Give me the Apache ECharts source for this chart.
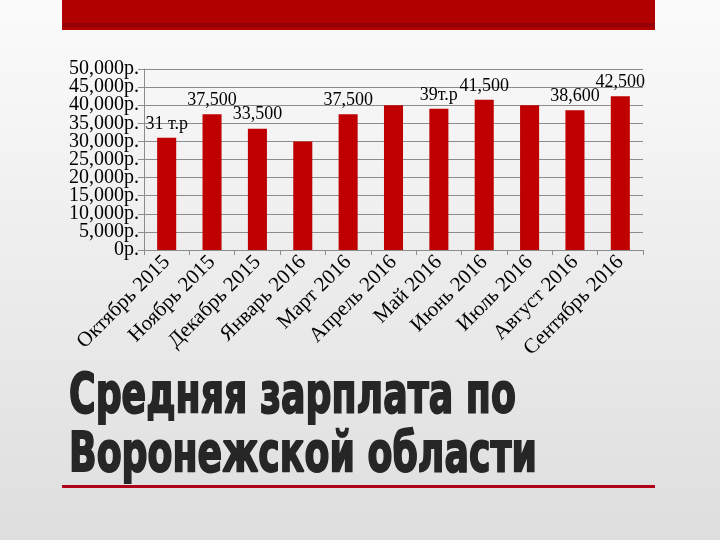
<!DOCTYPE html>
<html>
<head>
<meta charset="utf-8">
<style>
  html, body { margin: 0; padding: 0; }
  #main { width: 720px; height: 540px; }
</style>
</head>
<body>
<div id="main"></div>
<script src="https://cdn.jsdelivr.net/npm/echarts@6/dist/echarts.min.js"></script>
<script>
var months = ['Октябрь 2015', 'Ноябрь 2015', 'Декабрь 2015', 'Январь 2016', 'Март 2016', 'Апрель 2016',
              'Май 2016', 'Июнь 2016', 'Июль 2016', 'Август 2016', 'Сентябрь 2016'];
var salary = [31000, 37500, 33500, 30000, 37500, 40000, 39000, 41500, 40000, 38600, 42500];
var barLabels = ['31 т.р', '37,500', '33,500', '', '37,500', '', '39т.р', '41,500', '', '38,600', '42,500'];
var titleLines = ['Средняя зарплата по', 'Воронежской области'];

var serif = '"Liberation Serif", "Times New Roman", serif';

function rub(v) { return v.toLocaleString('en-US') + 'р.'; }

// labels sit 18px apart, so they are split over two stacked axes to keep all of them visible
function yAxisFor(even) {
  return {
    type: 'value',
    position: 'left',
    min: 0, max: 50000, interval: 5000,
    axisLine: { show: even, lineStyle: { color: '#8c8c8c' } },
    axisTick: { show: even, length: 6, lineStyle: { color: '#8c8c8c' } },
    splitLine: { show: even, lineStyle: { color: '#8c8c8c' } },
    axisLabel: {
      margin: 5, color: '#000', fontFamily: serif, fontSize: 20,
      showMinLabel: true, showMaxLabel: true,
      formatter: function (v) {
        var isEven = (v / 5000) % 2 === 0;
        return isEven === even ? rub(v) : '';
      }
    }
  };
}

var chart = echarts.init(document.getElementById('main'));
var option = {
  backgroundColor: {
    type: 'linear', x: 0, y: 0, x2: 0, y2: 1,
    colorStops: [{ offset: 0, color: '#fbfbfb' }, { offset: 1, color: '#dedede' }]
  },
  animation: false,
  grid: { left: 144, right: 77, top: 69, bottom: 290 },
  xAxis: {
    type: 'category',
    data: months,
    axisLine: { lineStyle: { color: '#8c8c8c' } },
    axisTick: { show: true, length: 5, lineStyle: { color: '#8c8c8c' } },
    axisLabel: { rotate: 45, margin: 9, color: '#000', fontFamily: serif, fontSize: 21, interval: 0 }
  },
  yAxis: [yAxisFor(true), yAxisFor(false)],
  series: [{
    type: 'bar',
    data: salary,
    barWidth: '42%',
    itemStyle: { color: '#c00000' },
    label: {
      show: true, position: 'top', distance: 5,
      color: '#000', fontFamily: serif, fontSize: 18,
      formatter: function (p) { return barLabels[p.dataIndex]; }
    }
  }],
  graphic: [
    { type: 'rect', shape: { x: 62, y: 0, width: 593, height: 30 }, style: { fill: '#b00000' } },
    { type: 'rect', shape: { x: 62, y: 23, width: 593, height: 4 }, style: { fill: '#960008' } },
    { type: 'rect', shape: { x: 62, y: 485, width: 593, height: 3 }, style: { fill: '#b0001a' } },
    { type: 'text', x: 69, y: 425, scaleX: 0.66,
      style: { text: titleLines[0], font: 'bold 55px "DejaVu Sans"', fill: '#262626',
               stroke: '#262626', lineWidth: 2, textVerticalAlign: 'bottom' } },
    { type: 'text', x: 69, y: 484, scaleX: 0.66,
      style: { text: titleLines[1], font: 'bold 55px "DejaVu Sans"', fill: '#262626',
               stroke: '#262626', lineWidth: 2, textVerticalAlign: 'bottom' } }
  ]
};
chart.setOption(option);
</script>
</body>
</html>
